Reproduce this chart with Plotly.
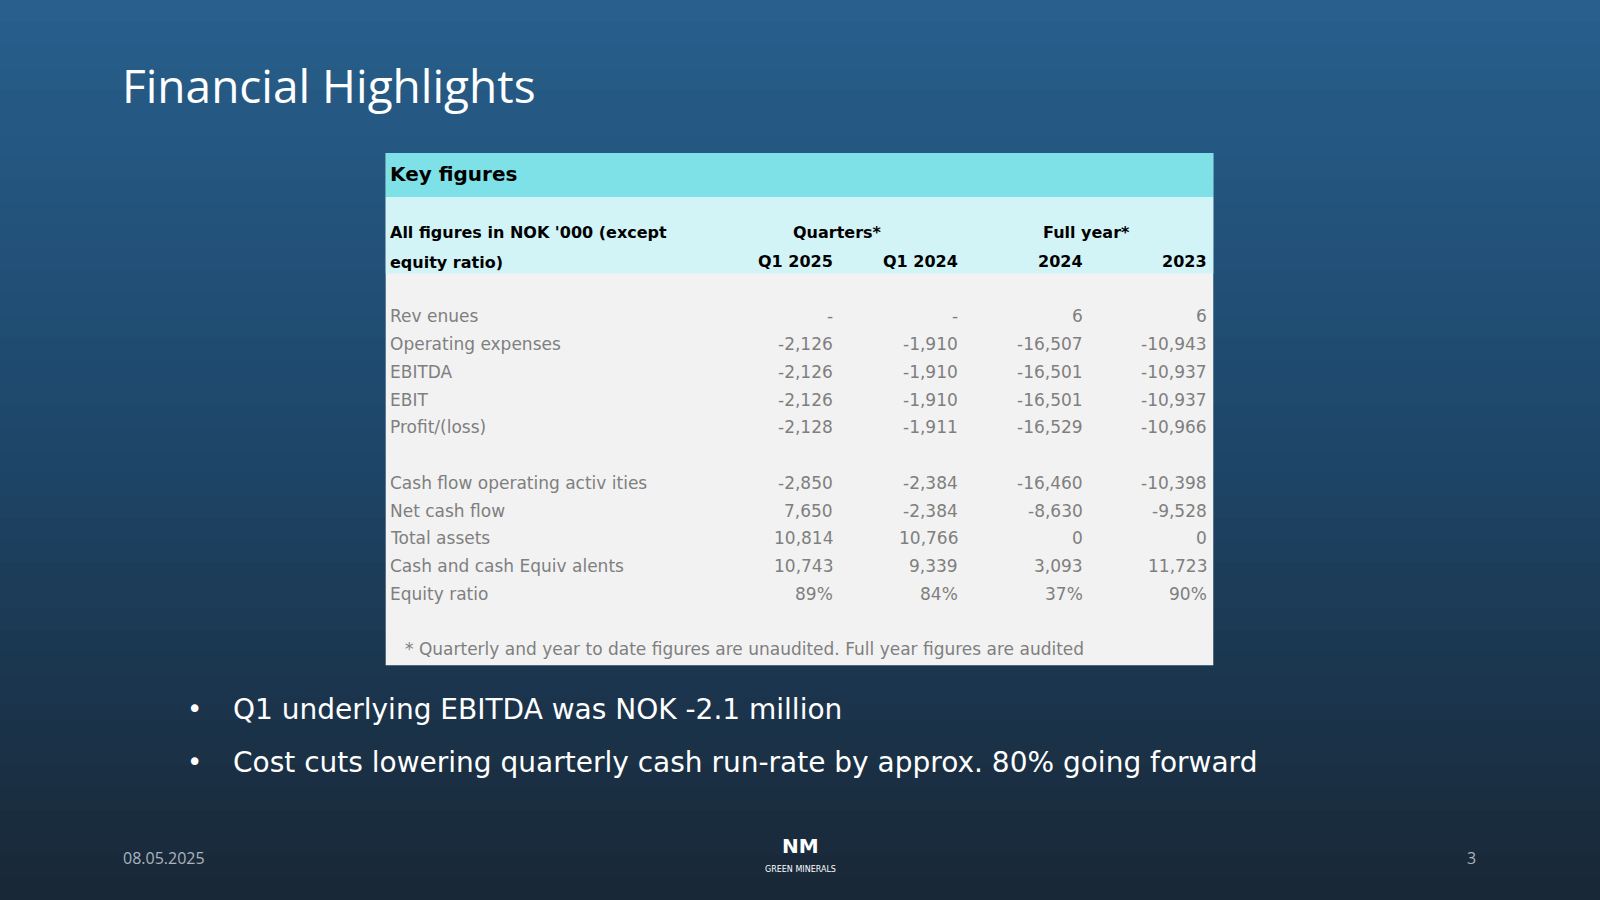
import plotly.graph_objects as go

row_labels = ["Rev enues", "Operating expenses", "EBITDA", "EBIT", "Profit/(loss)", "",
              "Cash flow operating activ ities", "Net cash flow", "Total assets",
              "Cash and cash Equiv alents", "Equity ratio"]
q1_2025 = ["-", "-2,126", "-2,126", "-2,126", "-2,128", "", "-2,850", "7,650", "10,814", "10,743", "89%"]
q1_2024 = ["-", "-1,910", "-1,910", "-1,910", "-1,911", "", "-2,384", "-2,384", "10,766", "9,339", "84%"]
fy_2024 = ["6", "-16,507", "-16,501", "-16,501", "-16,529", "", "-16,460", "-8,630", "0", "3,093", "37%"]
fy_2023 = ["6", "-10,943", "-10,937", "-10,937", "-10,966", "", "-10,398", "-9,528", "0", "11,723", "90%"]
col_headers = ["Q1 2025", "Q1 2024", "2024", "2023"]
bullets = ["Q1 underlying EBITDA was NOK -2.1 million",
           "Cost cuts lowering quarterly cash run-rate by approx. 80% going forward"]

W, H = 1568, 882
fig = go.Figure()
shapes = []
top = (40, 95, 140); mid = (30, 70, 105); bot = (25, 40, 55)
n = 40
for i in range(n):
    t_ = i / (n - 1)
    if t_ < 0.5:
        a, b, u = top, mid, t_ / 0.5
    else:
        a, b, u = mid, bot, (t_ - 0.5) / 0.5
    c = tuple(int(a[k] + (b[k] - a[k]) * u) for k in range(3))
    shapes.append(dict(type="rect", x0=0, x1=W, y0=i * H / n, y1=(i + 1) * H / n + 1,
                       fillcolor="rgb(%d,%d,%d)" % c, line_width=0, layer="below"))
shapes += [
    dict(type="rect", x0=378, x1=1189, y0=150, y1=652, fillcolor="#F2F2F2", line_width=0),
    dict(type="rect", x0=378, x1=1189, y0=150, y1=193, fillcolor="#7FE1E8", line_width=0),
    dict(type="rect", x0=378, x1=1189, y0=193, y1=268, fillcolor="#D3F4F7", line_width=0),
]
F = "DejaVu Sans"
ann = []
def t(x, y, s, size=17, color="#7F7F7F", anchor="left", bold=False, fam=F):
    ann.append(dict(x=x, y=y, text=("<b>%s</b>" % s) if bold else s, showarrow=False,
                    xanchor=anchor, yanchor="middle", font=dict(family=fam, size=size, color=color)))

t(118, 83, "Financial Highlights", size=46, color="white", fam="Open Sans")
t(380, 171, "Key figures", size=20, color="black", bold=True)
t(380, 228, "All figures in NOK '000 (except", size=16, color="black", bold=True)
t(380, 257, "equity ratio)", size=16, color="black", bold=True)
t(821, 228, "Quarters*", size=16, color="black", bold=True, anchor="center")
t(1065, 228, "Full year*", size=16, color="black", bold=True, anchor="center")
col_x = [818, 941, 1063, 1185]
for x, h in zip(col_x, col_headers):
    t(x, 256, h, size=16, color="black", bold=True, anchor="right")
y0, dy = 310, 27.2
for i, lab in enumerate(row_labels):
    y = y0 + i * dy
    if lab:
        t(380, y, lab)
    for x, col in zip(col_x, [q1_2025, q1_2024, fy_2024, fy_2023]):
        if col[i]:
            t(x, y, col[i], anchor="right")
t(395, 636, "* Quarterly and year to date figures are unaudited. Full year figures are audited", size=17)
for i, b in enumerate(bullets):
    y = 695 + i * 52
    t(181, y, "•", size=26, color="white")
    t(226, y, b, size=28, color="white")
t(119, 841, "08.05.2025", size=16, color="#A9B4BE", fam="Open Sans")
t(1442, 841, "3", size=16, color="#A9B4BE", anchor="center", fam="Open Sans")
t(784, 829, "<b>NM</b>", size=20, color="white", anchor="center")
t(784, 852, "GREEN MINERALS", size=8, color="white", anchor="center")

fig.update_layout(width=1600, height=900, margin=dict(l=0, r=0, t=0, b=0),
                  shapes=shapes, annotations=ann, paper_bgcolor="#1e3a55", plot_bgcolor="#1e3a55",
                  xaxis=dict(range=[0, W], visible=False, fixedrange=True),
                  yaxis=dict(range=[H, 0], visible=False, fixedrange=True), showlegend=False)
fig.write_html("out.html", config={"displayModeBar": False},
               post_script="document.body.style.margin='0';")
